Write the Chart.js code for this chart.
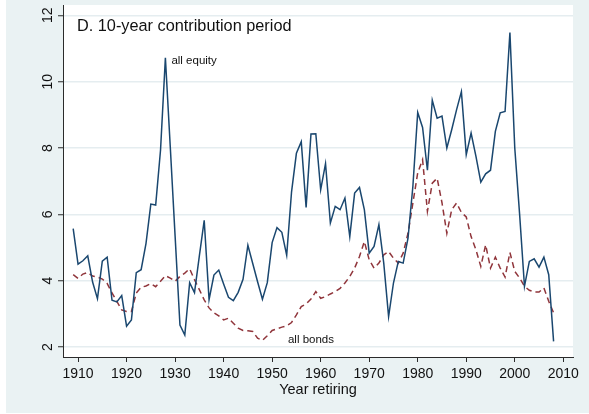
<!DOCTYPE html>
<html>
<head>
<meta charset="utf-8">
<script src="https://cdn.jsdelivr.net/npm/chart.js@4.4.1/dist/chart.umd.min.js"></script>
<style>
  html, body { margin: 0; padding: 0; background: #ffffff; }
  canvas { display: block; }
</style>
</head>
<body>
<canvas id="c" width="589" height="414"></canvas>
<script>
// ---- data ----
const years = [];
for (let y = 1909; y <= 2008; y++) years.push(y);

const allEquity = [
  5.57, 4.50, 4.60, 4.75, 3.96, 3.46, 4.59, 4.71, 3.41, 3.36,
  3.55, 2.63, 2.82, 4.24, 4.33, 5.12, 6.31, 6.28, 7.94, 10.72,
  8.05, 5.35, 2.66, 2.36, 3.94, 3.64, 4.75, 5.82, 3.43, 4.17,
  4.32, 3.90, 3.50, 3.40, 3.65, 4.04, 5.07, 4.52, 3.97, 3.44,
  3.94, 5.15, 5.60, 5.46, 4.77, 6.68, 7.84, 8.19, 6.21, 8.42,
  8.43, 6.74, 7.53, 5.74, 6.24, 6.14, 6.49, 5.33, 6.64, 6.81,
  6.14, 4.83, 5.03, 5.69, 4.53, 2.92, 3.93, 4.58, 4.53, 5.28,
  6.84, 9.07, 8.62, 7.33, 9.44, 8.90, 8.96, 8.00, 8.55, 9.15,
  9.70, 7.80, 8.45, 7.75, 6.97, 7.22, 7.33, 8.50, 9.06, 9.10,
  11.48, 8.00, 6.00, 3.83, 4.58, 4.66, 4.41, 4.71, 4.18, 2.17
];

const allBonds = [
  4.18, 4.07, 4.20, 4.25, 4.14, 4.11, 4.05, 3.92, 3.63, 3.38,
  3.12, 3.07, 3.07, 3.63, 3.80, 3.84, 3.91, 3.82, 3.98, 4.15,
  4.08, 3.98, 4.13, 4.23, 4.36, 4.03, 3.73, 3.42, 3.18, 3.03,
  2.94, 2.82, 2.87, 2.72, 2.57, 2.50, 2.49, 2.47, 2.27, 2.20,
  2.34, 2.50, 2.55, 2.60, 2.64, 2.74, 2.97, 3.22, 3.30, 3.45,
  3.67, 3.47, 3.52, 3.60, 3.67, 3.77, 3.93, 4.13, 4.38, 4.73,
  5.18, 4.63, 4.38, 4.53, 4.78, 4.88, 4.68, 4.53, 4.83, 5.43,
  6.34, 7.25, 7.65, 6.09, 6.94, 7.09, 6.35, 5.43, 6.14, 6.34,
  6.06, 5.92, 5.33, 4.93, 4.43, 5.08, 4.38, 4.71, 4.38, 4.11,
  4.85, 4.28, 4.08, 3.83, 3.71, 3.66, 3.66, 3.78, 3.38, 3.03
];

const xTicks = [1910, 1920, 1930, 1940, 1950, 1960, 1970, 1980, 1990, 2000, 2010];
const yTicks = [2, 4, 6, 8, 10, 12];
const seriesNames = ['all equity', 'all bonds'];
const labelYears = [1928, 1948];
const panelTitle = 'D. 10-year contribution period';
const xTitle = 'Year retiring';

// ---- styles ----
const FONT = "'Liberation Sans', Arial, Helvetica, sans-serif";
const NAVY = '#1a476f';
const MAROON = '#90353b';
const AXIS = '#2b2b2b';
const GRID = '#e5edf0';
const OUTER = '#eaf2f3';

const eqData = years.map((y, i) => ({ x: y, y: allEquity[i] }));
const bdData = years.map((y, i) => ({ x: y, y: allBonds[i] }));

const decor = {
  id: 'decor',
  beforeDraw(chart) {
    const { ctx, chartArea: a } = chart;
    ctx.save();
    ctx.fillStyle = '#ffffff';
    ctx.fillRect(0, 0, chart.width, chart.height);
    ctx.fillStyle = OUTER;
    ctx.fillRect(6, 0, chart.width - 6, chart.height - 1);
    ctx.fillStyle = '#ffffff';
    ctx.fillRect(a.left, a.top, a.right - a.left, a.bottom - a.top);
    ctx.restore();
  },
  afterDraw(chart) {
    const { ctx, chartArea: a, scales } = chart;
    const xs = scales.x, ys = scales.y;
    ctx.save();
    // rotated y tick labels
    ctx.fillStyle = '#111';
    ctx.font = '14px ' + FONT;
    ctx.textAlign = 'center';
    ctx.textBaseline = 'alphabetic';
    yTicks.forEach(v => {
      const py = ys.getPixelForValue(v);
      ctx.save();
      ctx.translate(a.left - 11.5, py);
      ctx.rotate(-Math.PI / 2);
      ctx.fillText(String(v), 0, 0);
      ctx.restore();
    });
    // panel title inside plot region
    ctx.textAlign = 'left';
    ctx.font = '16.3px ' + FONT;
    ctx.fillText(panelTitle, a.left + 14, a.top + 25.7);
    // series labels
    ctx.font = '11.5px ' + FONT;
    const i0 = years.indexOf(labelYears[0]);
    ctx.fillText(seriesNames[0], xs.getPixelForValue(labelYears[0]) + 6, ys.getPixelForValue(allEquity[i0]) + 6);
    const i1 = years.indexOf(labelYears[1]);
    ctx.fillText(seriesNames[1], xs.getPixelForValue(labelYears[1]) + 25.5, ys.getPixelForValue(allBonds[i1]) + 3);
    ctx.restore();
  }
};

new Chart(document.getElementById('c'), {
  type: 'line',
  data: {
    datasets: [
      { label: seriesNames[0], data: eqData, borderColor: NAVY, borderWidth: 1.5,
        pointRadius: 0, tension: 0, fill: false },
      { label: seriesNames[1], data: bdData, borderColor: MAROON, borderWidth: 1.5,
        borderDash: [6, 4], pointRadius: 0, tension: 0, fill: false }
    ]
  },
  options: {
    responsive: false,
    animation: false,
    devicePixelRatio: 1,
    layout: { padding: { left: 0, right: 16, top: 5, bottom: 0 } },
    plugins: { legend: { display: false }, tooltip: { enabled: false } },
    scales: {
      x: {
        type: 'linear',
        min: 1906.9, max: 2012.0,
        afterBuildTicks(s) { s.ticks = xTicks.map(v => ({ value: v })); },
        afterFit(s) { s.height = 57; },
        grid: { drawOnChartArea: false, drawTicks: true, tickLength: 5, tickColor: AXIS, tickWidth: 1 },
        border: { display: true, color: AXIS, width: 1 },
        ticks: { color: '#111', font: { family: FONT, size: 14 }, padding: 4, maxRotation: 0, autoSkip: false,
                 callback: v => String(v) },
        title: { display: true, text: xTitle, color: '#111', font: { family: FONT, size: 14.5 },
                 padding: { top: 0, bottom: 15.8 } }
      },
      y: {
        type: 'linear',
        min: 1.70, max: 12.31,
        afterBuildTicks(s) { s.ticks = yTicks.map(v => ({ value: v })); },
        afterFit(s) { s.width = 63; },
        grid: { color: GRID, lineWidth: 1.5, drawOnChartArea: true, drawTicks: true, tickLength: 5,
                tickColor: AXIS, tickWidth: 1 },
        border: { display: true, color: AXIS, width: 1 },
        ticks: { display: false }
      }
    }
  },
  plugins: [decor]
});
</script>
</body>
</html>
